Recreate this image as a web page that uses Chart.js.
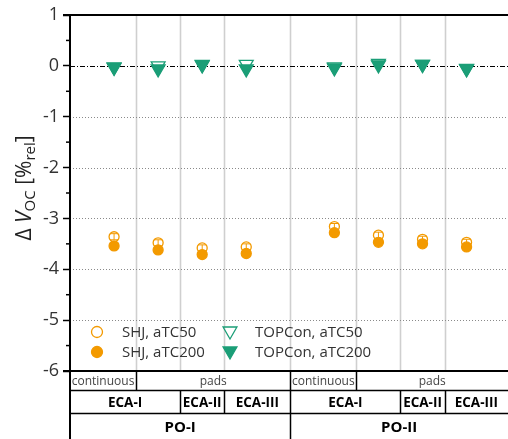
<!DOCTYPE html>
<html>
<head>
<meta charset="utf-8">
<script src="https://cdn.jsdelivr.net/npm/chart.js@4.4.1/dist/chart.umd.min.js"></script>
<style>
  html, body { margin: 0; padding: 0; background: #fff; }
  canvas { display: block; }
</style>
</head>
<body>
<canvas id="chart" width="508" height="439"></canvas>
<script>
// Sample positions along the x axis (two process groups with a gap)
const positions = [1, 2, 3, 4, 6, 7, 8, 9];

// Relative change of Voc in %
const shjTC50    = [-3.36, -3.48, -3.58, -3.56, -3.16, -3.33, -3.41, -3.47];
const shjTC50Err = [0.06, 0.06, 0.06, 0.06, 0.06, 0.06, 0.06, 0.06];
const shjTC200   = [-3.54, -3.62, -3.71, -3.69, -3.28, -3.47, -3.50, -3.56];
const topTC50    = [-0.02, 0.00, 0.02, 0.03, -0.02, 0.05, 0.03, -0.05];
const topTC200   = [-0.03, -0.06, 0.03, -0.06, -0.04, 0.02, 0.03, -0.06];

// Y axis ticks
const yTicks = [1, 0, -1, -2, -3, -4, -5, -6];

// Category table below the plot
const X_MAX = 9.94;
const separators = [1.5, 2.5, 3.5, 5, 6.5, 7.5, 8.5];
const rowLayout = [
  { label: 'continuous', from: 0,   to: 1.5 },
  { label: 'pads',       from: 1.5, to: 5 },
  { label: 'continuous', from: 5,   to: 6.5 },
  { label: 'pads',       from: 6.5, to: X_MAX }
];
const rowPaste = [
  { label: 'ECA-I',   from: 0,   to: 2.5 },
  { label: 'ECA-II',  from: 2.5, to: 3.5 },
  { label: 'ECA-III', from: 3.5, to: 5 },
  { label: 'ECA-I',   from: 5,   to: 7.5 },
  { label: 'ECA-II',  from: 7.5, to: 8.5 },
  { label: 'ECA-III', from: 8.5, to: X_MAX }
];
const rowPO = [
  { label: 'PO-I',  from: 0, to: 5 },
  { label: 'PO-II', from: 5, to: X_MAX }
];

const ORANGE = '#F39A00';
const GREEN = '#1B9E77';
const FONT = '"Open Sans", "Noto Sans", sans-serif';

const pts = (vals) => positions.map((x, i) => ({ x, y: vals[i] }));

const legendItems = [
  { text: 'SHJ, aTC50',      shape: 'circle',   filled: false, color: ORANGE, col: 0, row: 0 },
  { text: 'SHJ, aTC200',     shape: 'circle',   filled: true,  color: ORANGE, col: 0, row: 1 },
  { text: 'TOPCon, aTC50',   shape: 'triangle', filled: false, color: GREEN,  col: 1, row: 0 },
  { text: 'TOPCon, aTC200',  shape: 'triangle', filled: true,  color: GREEN,  col: 1, row: 1 }
];

function marker(ctx, shape, filled, color, x, y) {
  ctx.save();
  ctx.beginPath();
  if (shape === 'circle') {
    ctx.arc(x, y, 5.5, 0, Math.PI * 2);
  } else {
    const r = 8;
    ctx.moveTo(x, y + r);
    ctx.lineTo(x - r * Math.sqrt(3) / 2, y - r / 2);
    ctx.lineTo(x + r * Math.sqrt(3) / 2, y - r / 2);
    ctx.closePath();
  }
  ctx.lineWidth = 1.3;
  ctx.strokeStyle = color;
  if (filled) { ctx.fillStyle = color; ctx.fill(); }
  ctx.stroke();
  ctx.restore();
}

const decorations = {
  id: 'decorations',
  beforeDatasetsDraw(chart) {
    const { ctx, chartArea: a, scales: { x, y } } = chart;
    ctx.save();
    // vertical separators
    ctx.strokeStyle = '#cfcfcf';
    ctx.lineWidth = 1.6;
    separators.forEach(v => {
      const px = Math.round(x.getPixelForValue(v)) + 0.5;
      ctx.beginPath(); ctx.moveTo(px, a.top); ctx.lineTo(px, a.bottom); ctx.stroke();
    });
    // dotted horizontal grid
    ctx.strokeStyle = '#8a8a8a';
    ctx.lineWidth = 1;
    ctx.setLineDash([1, 2]);
    yTicks.filter(v => v < 0 && v > -6).forEach(v => {
      const py = Math.round(y.getPixelForValue(v)) + 0.5;
      ctx.beginPath(); ctx.moveTo(a.left, py); ctx.lineTo(a.right, py); ctx.stroke();
    });
    // zero reference line
    ctx.strokeStyle = '#000';
    ctx.setLineDash([5, 2, 1, 2]);
    const py0 = Math.round(y.getPixelForValue(0)) + 0.5;
    ctx.beginPath(); ctx.moveTo(a.left, py0); ctx.lineTo(a.right, py0); ctx.stroke();
    ctx.setLineDash([]);
    // error bars
    ctx.strokeStyle = ORANGE;
    ctx.lineWidth = 1;
    positions.forEach((p, i) => {
      const px = x.getPixelForValue(p);
      const yHi = y.getPixelForValue(shjTC50[i] + shjTC50Err[i]);
      const yLo = y.getPixelForValue(shjTC50[i] - shjTC50Err[i]);
      ctx.beginPath();
      ctx.moveTo(px, yHi); ctx.lineTo(px, yLo);
      ctx.moveTo(px - 4, yHi); ctx.lineTo(px + 4, yHi);
      ctx.moveTo(px - 4, yLo); ctx.lineTo(px + 4, yLo);
      ctx.stroke();
    });
    ctx.restore();
  },
  afterDraw(chart) {
    const { ctx, chartArea: a, scales: { x, y } } = chart;
    const H = chart.height;
    ctx.save();
    ctx.strokeStyle = '#000';
    // minor ticks
    ctx.lineWidth = 1.5;
    for (let v = 0.5; v > -6; v -= 1) {
      const py = y.getPixelForValue(v);
      ctx.beginPath(); ctx.moveTo(a.left - 4, py); ctx.lineTo(a.left, py); ctx.stroke();
    }
    // frame: left axis through table, top and bottom borders
    ctx.lineWidth = 2;
    ctx.beginPath(); ctx.moveTo(a.left, a.top - 1); ctx.lineTo(a.left, H); ctx.stroke();
    ctx.beginPath(); ctx.moveTo(a.left - 7, a.top); ctx.lineTo(a.right, a.top); ctx.stroke();
    ctx.beginPath(); ctx.moveTo(a.left - 7, a.bottom); ctx.lineTo(a.right, a.bottom); ctx.stroke();

    // table rows
    const r1 = a.bottom, r2 = a.bottom + 19.5, r3 = a.bottom + 42.5, r4 = H;
    ctx.lineWidth = 1.5;
    [r2, r3].forEach(ry => {
      ctx.beginPath(); ctx.moveTo(a.left, ry); ctx.lineTo(a.right, ry); ctx.stroke();
    });
    const drawRow = (cells, top, bottom, font, color) => {
      cells.forEach((c, i) => {
        const x0 = x.getPixelForValue(c.from), x1 = x.getPixelForValue(c.to);
        if (i > 0) {
          ctx.beginPath(); ctx.moveTo(Math.round(x0) + 0.5, top); ctx.lineTo(Math.round(x0) + 0.5, bottom); ctx.stroke();
        }
        ctx.fillStyle = color;
        ctx.font = font;
        ctx.textAlign = 'center';
        ctx.textBaseline = 'middle';
        ctx.fillText(c.label, (x0 + x1) / 2, (top + bottom) / 2 + 1);
      });
    };
    drawRow(rowLayout, r1, r2, '12px ' + FONT, '#444');
    drawRow(rowPaste, r2, r3, 'bold 13.5px ' + FONT, '#000');
    drawRow(rowPO, r3, r4, 'bold 15px ' + FONT, '#000');

    // legend
    legendItems.forEach(it => {
      const mx = a.left + 27 + it.col * 133;
      const my = a.top + 317 + it.row * 20;
      marker(ctx, it.shape, it.filled, it.color, mx, it.shape === 'triangle' ? my - 1 : my);
      ctx.fillStyle = '#333';
      ctx.font = '15px ' + FONT;
      ctx.textAlign = 'left';
      ctx.textBaseline = 'middle';
      ctx.fillText(it.text, mx + 25, my + 1);
    });

    // y axis title: Δ V_OC [%_rel]
    const parts = [
      { t: 'Δ ', f: '21px ' + FONT, sub: false },
      { t: 'V', f: 'italic 21px ' + FONT, sub: false },
      { t: 'OC', f: '15px ' + FONT, sub: true },
      { t: ' [%', f: '21px ' + FONT, sub: false },
      { t: 'rel', f: '15px ' + FONT, sub: true },
      { t: ']', f: '21px ' + FONT, sub: false }
    ];
    let total = 0;
    parts.forEach(p => { ctx.font = p.f; p.w = ctx.measureText(p.t).width; total += p.w; });
    ctx.translate(24, 188);
    ctx.rotate(-Math.PI / 2);
    ctx.fillStyle = '#222';
    ctx.textAlign = 'left';
    ctx.textBaseline = 'alphabetic';
    let cx = -total / 2;
    parts.forEach(p => {
      ctx.font = p.f;
      ctx.fillText(p.t, cx, p.sub ? 11 : 7);
      cx += p.w;
    });
    ctx.restore();
  }
};

new Chart(document.getElementById('chart'), {
  type: 'scatter',
  data: {
    datasets: [
      { label: 'SHJ, aTC50', data: pts(shjTC50), pointStyle: 'circle', pointRadius: 5, borderWidth: 1.3,
        borderColor: ORANGE, backgroundColor: 'rgba(0,0,0,0)' },
      { label: 'SHJ, aTC200', data: pts(shjTC200), pointStyle: 'circle', pointRadius: 5, borderWidth: 1.3,
        borderColor: ORANGE, backgroundColor: ORANGE },
      { label: 'TOPCon, aTC50', data: pts(topTC50), pointStyle: 'triangle', pointRotation: 180, pointRadius: 8,
        borderWidth: 1.3, borderColor: GREEN, backgroundColor: 'rgba(0,0,0,0)' },
      { label: 'TOPCon, aTC200', data: pts(topTC200), pointStyle: 'triangle', pointRotation: 180, pointRadius: 8,
        borderWidth: 1.3, borderColor: GREEN, backgroundColor: GREEN }
    ]
  },
  options: {
    responsive: false,
    animation: false,
    layout: { autoPadding: false, padding: { left: 0, right: 0, top: 15, bottom: 68 } },
    plugins: { legend: { display: false }, tooltip: { enabled: false } },
    scales: {
      x: { type: 'linear', min: 0, max: X_MAX, display: false },
      y: {
        min: -6, max: 1,
        afterFit(s) { s.width = 70; },
        afterBuildTicks(s) { s.ticks = yTicks.map(v => ({ value: v })); },
        ticks: { color: '#333', font: { family: FONT, size: 18 }, padding: 4 },
        grid: { drawOnChartArea: false, drawTicks: true, tickLength: 7, tickColor: '#000', tickWidth: 1.5 },
        border: { display: false }
      }
    }
  },
  plugins: [decorations]
});
</script>
</body>
</html>
